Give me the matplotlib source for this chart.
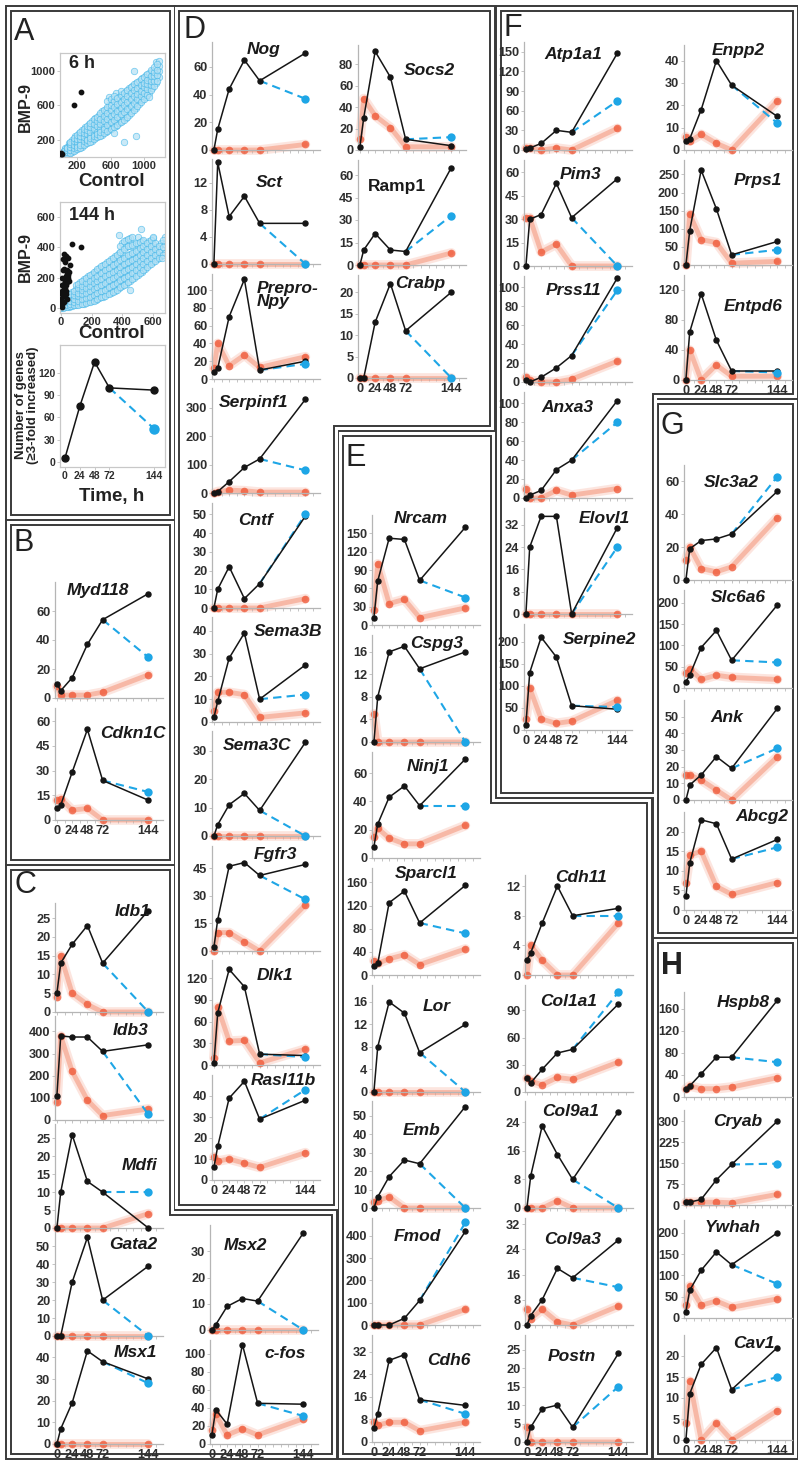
import matplotlib
matplotlib.use('Agg')
import matplotlib.pyplot as plt
from matplotlib.patches import Polygon

plt.rcParams['font.family'] = ['Liberation Sans', 'DejaVu Sans']

# ================= DATA =================
TIMES = [0, 6, 24, 48, 72, 144]
XTICKS = [0, 24, 48, 72, 144]

# ---- Panel A ----
A_count_times = [0, 24, 48, 72, 144]
A_count = [5, 75, 135, 100, 97]
A_count_blue = 45

# 6 h scatter: control values (columns) and BMP-9 values read along each column
A6_ctrl_cols = [20, 60, 100, 140, 180, 220, 260, 300, 340, 380, 420, 460, 500, 540, 580, 620,
                660, 700, 740, 780, 820, 860, 900, 940, 980, 1020, 1060, 1100, 1140, 1180]
A6_bmp_cols = [
    [5, 15, 30, 45, 25, 60],
    [20, 40, 65, 90, 55, 110],
    [40, 70, 100, 130, 85, 160],
    [60, 95, 130, 170, 110, 200],
    [80, 120, 160, 205, 140, 240],
    [100, 150, 190, 240, 170, 280, 130],
    [120, 175, 220, 270, 200, 310, 150],
    [150, 200, 250, 300, 230, 350, 180],
    [170, 230, 280, 330, 260, 380, 210, 300],
    [190, 250, 310, 360, 290, 420, 230, 330],
    [220, 280, 340, 400, 320, 450, 260, 370],
    [240, 300, 370, 430, 350, 490, 280, 400],
    [260, 330, 400, 460, 380, 530, 300, 430],
    [290, 360, 430, 500, 410, 560, 330, 470],
    [310, 390, 460, 530, 440, 600, 360, 500, 700],
    [340, 420, 490, 560, 470, 630, 390, 530],
    [360, 450, 520, 600, 500, 670, 420, 560, 740],
    [390, 480, 560, 630, 530, 700, 450, 600],
    [420, 510, 590, 660, 560, 730, 480, 640],
    [450, 540, 620, 700, 600, 770, 520, 670],
    [490, 580, 650, 730, 640, 800, 560, 700],
    [530, 610, 690, 760, 670, 830, 600, 740],
    [570, 650, 720, 790, 700, 860, 640, 770],
    [620, 690, 750, 820, 740, 890, 680, 800],
    [660, 730, 790, 850, 780, 920, 830],
    [700, 770, 830, 880, 810, 950, 870],
    [750, 820, 870, 920, 850, 980],
    [800, 870, 910, 960, 1000, 940],
    [860, 920, 980, 1040, 1100],
    [930, 1000, 1060, 1120],
]
A6_ctrl_cols2 = [40, 80, 120, 160, 200, 240, 280, 320, 360, 400, 440, 480, 520, 560, 600, 640,
                 680, 720, 760, 800, 840, 880, 920, 960, 1000, 1040, 1080, 1120, 1160]
A6_bmp_cols2 = [
    [12, 28, 50, 70],
    [30, 55, 80, 120, 100],
    [50, 85, 115, 150, 180],
    [70, 110, 145, 185, 220],
    [90, 135, 175, 215, 255, 120],
    [110, 160, 205, 250, 295, 140],
    [135, 185, 235, 285, 330],
    [160, 215, 265, 315, 365, 195],
    [180, 240, 295, 345, 400, 220],
    [205, 265, 325, 380, 440, 245],
    [230, 290, 355, 415, 470, 270],
    [250, 320, 385, 445, 510, 290],
    [275, 345, 415, 480, 545, 320],
    [300, 375, 445, 515, 580, 650],
    [325, 405, 475, 545, 610, 680],
    [350, 435, 505, 580, 650, 710],
    [375, 465, 540, 615, 690],
    [405, 495, 575, 645, 720, 770],
    [435, 525, 605, 680, 750],
    [470, 560, 635, 715, 785],
    [510, 595, 670, 745, 815],
    [550, 630, 705, 775, 845],
    [595, 670, 735, 805, 875],
    [640, 710, 770, 835, 905],
    [680, 750, 810, 865, 935],
    [725, 795, 850, 900, 965],
    [775, 840, 890, 945, 1010],
    [830, 890, 940, 990, 1050],
    [890, 950, 1010, 1080],
]
A6_out_ctrl = [760, 905, 640, 1060, 880]
A6_out_bmp = [180, 240, 280, 700, 1000]
A6_hi_ctrl = [8, 12, 15, 170, 250]
A6_hi_bmp = [30, 50, 40, 600, 760]

# 144 h scatter
A144_ctrl_cols = [0, 25, 50, 75, 100, 125, 150, 175, 200, 225, 250, 275, 300, 325, 350, 375,
                  400, 425, 450, 475, 500, 525, 550, 575, 600, 625, 650, 675]
A144_bmp_cols = [
    [0, 5, 10, 20, 30],
    [5, 15, 30, 45, 60],
    [10, 25, 45, 65, 85],
    [15, 35, 55, 80, 105],
    [20, 45, 70, 95, 125, 150],
    [25, 55, 85, 110, 140, 170],
    [30, 60, 95, 125, 155, 190],
    [40, 70, 105, 140, 170, 210],
    [45, 80, 120, 155, 190, 225],
    [55, 95, 135, 170, 205, 245],
    [65, 105, 145, 185, 220, 265],
    [75, 115, 160, 200, 240, 285],
    [90, 130, 175, 215, 255, 300],
    [100, 145, 190, 230, 270, 320],
    [115, 160, 205, 245, 290, 340],
    [130, 175, 220, 260, 305, 360],
    [145, 190, 235, 280, 325, 380, 430],
    [160, 205, 250, 295, 340, 400, 450],
    [180, 220, 265, 310, 355, 410, 460],
    [200, 240, 280, 325, 370, 420],
    [220, 260, 300, 340, 385, 430, 470],
    [240, 280, 320, 360, 400, 440],
    [260, 300, 340, 380, 420],
    [280, 320, 360, 400, 440],
    [300, 340, 380, 420, 460],
    [320, 360, 400],
    [340, 390, 430],
    [360, 420, 470],
]
A144_ctrl_cols2 = [12, 37, 62, 87, 112, 137, 162, 187, 212, 237, 262, 287, 312, 337, 362, 387,
                   412, 437, 462, 487, 512, 537, 562, 587, 612, 637, 662]
A144_bmp_cols2 = [
    [2, 12, 25, 40],
    [8, 20, 38, 55, 75],
    [12, 30, 50, 72, 95],
    [18, 40, 62, 88, 115],
    [22, 50, 78, 102, 132, 160],
    [28, 58, 90, 118, 148, 180],
    [35, 65, 100, 132, 162, 200],
    [42, 75, 112, 148, 180, 218],
    [50, 88, 128, 162, 198, 235],
    [60, 100, 140, 178, 212, 255],
    [70, 110, 152, 192, 230, 275],
    [82, 122, 168, 208, 248, 292],
    [95, 138, 182, 222, 262, 310],
    [108, 152, 198, 238, 280, 330],
    [122, 168, 212, 252, 298, 350],
    [138, 182, 228, 270, 315, 370, 410],
    [152, 198, 242, 288, 332, 390, 440],
    [170, 212, 258, 302, 348, 405, 455],
    [190, 230, 272, 318, 362, 415, 465],
    [210, 250, 290, 332, 378, 425],
    [230, 270, 310, 350, 392, 435],
    [250, 290, 330, 370, 410, 450],
    [270, 310, 350, 390, 430],
    [290, 330, 370, 410, 450],
    [310, 350, 390, 430],
    [330, 370, 410],
    [350, 400, 445],
]
A144_out_ctrl = [520, 600, 450, 380, 660]
A144_out_bmp = [520, 470, 120, 480, 330]
A144_hi_ctrl = [5, 8, 10, 12, 15, 18, 20, 22, 25, 28, 30, 32, 35, 38, 40, 42, 45, 48, 50, 20,
                25, 30, 15, 55, 60, 45, 70, 130, 10, 5, 8, 35, 40, 20, 12, 18, 3, 6, 28, 33]
A144_hi_bmp = [10, 30, 50, 80, 100, 120, 140, 160, 180, 200, 210, 150, 190, 230, 170, 250, 200,
               215, 180, 260, 300, 345, 320, 240, 280, 330, 420, 400, 200, 150, 90, 110, 60, 40,
               250, 355, 60, 110, 130, 95]

# ---- Panel B ----
B_genes = ['Myd118', 'Cdkn1C']
B_black = [[10, 5, 14, 37, 54, 72], [7, 9, 29, 55, 24, 12]]
B_orange = [[8, 2, 2, 2, 4, 16], [12, 13, 6, 7, 0, 0]]
B_blue = [28, 17]
B_yticks = [[0, 20, 40, 60], [0, 15, 30, 45, 60]]

# ---- Panel C ----
C_genes = ['Idb1', 'Idb3', 'Mdfi', 'Gata2', 'Msx1', 'Msx2', 'c-fos']
C_black = [[5, 13, 18, 23, 13, 27], [110, 380, 375, 375, 310, 340], [0, 10, 26, 13, 10, 0],
           [0, 0, 30, 55, 20, 39], [0, 7, 19, 43, 38, 30], [0, 2, 9, 12, 11, 37],
           [10, 38, 22, 110, 45, 44]]
C_orange = [[4, 15, 5, 2, 0, 0], [80, 380, 220, 90, 20, 50], [0, 0, 0, 0, 0, 4],
            [0, 0, 0, 0, 0, 0], [0, 0, 0, 0, 0, 0], [0, 0, 0, 0, 0, 0],
            [15, 33, 10, 17, 10, 28]]
C_blue = [0, 25, 10, 0, 28, 0, 31]
C_yticks = [[0, 5, 10, 15, 20, 25], [0, 100, 200, 300, 400], [0, 5, 10, 15, 20, 25],
            [0, 10, 20, 30, 40, 50], [0, 10, 20, 30, 40], [0, 10, 20, 30],
            [0, 20, 40, 60, 80, 100]]

# ---- Panel D ----
D_genes = ['Nog', 'Sct', 'Prepro-\nNpy', 'Serpinf1', 'Cntf', 'Sema3B', 'Sema3C', 'Fgfr3',
           'Dlk1', 'Rasl11b', 'Socs2', 'Ramp1', 'Crabp']
D_black = [[0, 15, 44, 65, 50, 70], [0, 15, 7, 10, 6, 6], [8, 12, 70, 112, 10, 20],
           [0, 5, 40, 90, 120, 330], [0, 10, 22, 5, 13, 49], [2, 9, 28, 39, 10, 25],
           [0, 4, 11, 15, 9, 33], [2, 17, 46, 48, 41, 47], [3, 72, 132, 108, 15, 13],
           [6, 16, 39, 47, 29, 38], [3, 30, 92, 68, 10, 4], [0, 10, 21, 10, 9, 65],
           [0, 0, 13, 22, 11, 20]]
D_orange = [[0, 0, 0, 0, 0, 4], [0, 0, 0, 0, 0, 0], [12, 40, 15, 27, 13, 25],
            [0, 5, 10, 8, 3, 3], [0, 0, 0, 0, 0, 5], [5, 13, 13, 12, 2, 4],
            [0, 0, 0, 0, 0, 0], [0, 10, 10, 5, 0, 25], [10, 80, 33, 34, 3, 22],
            [11, 9, 10, 8, 6, 13], [10, 48, 32, 21, 3, 3], [0, 0, 0, 0, 0, 8],
            [0, 0, 0, 0, 0, 0]]
D_blue = [37, 0, 17, 80, 50, 12, 0, 28, 11, 43, 12, 33, 0]
D_yticks = [[0, 20, 40, 60], [0, 4, 8, 12], [0, 20, 40, 60, 80, 100], [0, 100, 200, 300],
            [0, 10, 20, 30, 40, 50], [0, 10, 20, 30, 40], [0, 10, 20, 30], [0, 15, 30, 45],
            [0, 30, 60, 90, 120], [0, 10, 20, 30, 40], [0, 20, 40, 60, 80],
            [0, 15, 30, 45, 60], [0, 5, 10, 15, 20]]

# ---- Panel E ----
E_genes = ['Nrcam', 'Cspg3', 'Ninj1', 'Sparcl1', 'Lor', 'Emb', 'Fmod', 'Cdh6',
           'Cdh11', 'Col1a1', 'Col9a1', 'Col9a3', 'Postn']
E_black = [[12, 72, 142, 140, 73, 160], [0, 8, 16, 17, 13, 16], [8, 24, 43, 51, 37, 70],
           [15, 20, 125, 145, 90, 155], [0, 8, 16, 14, 7, 12], [0, 6, 17, 26, 24, 55],
           [0, 0, 0, 30, 110, 420], [5, 10, 29, 31, 15, 13], [2, 3, 7, 12, 8, 9],
           [15, 10, 25, 43, 47, 97], [0, 9, 23, 15, 8, 27], [0, 3, 8, 18, 15, 27],
           [0, 4, 9, 10, 4, 24]]
E_orange = [[25, 100, 35, 42, 12, 28], [5, 0, 0, 0, 0, 0], [15, 21, 14, 10, 10, 23],
            [25, 20, 28, 35, 18, 45], [0, 0, 0, 0, 0, 0], [3, 4, 6, 0, 0, 0],
            [0, 0, 0, 0, 0, 70], [7, 6, 7, 7, 4, 7], [0, 4, 2, 0, 0, 7],
            [15, 12, 8, 16, 14, 33], [0, 0, 0, 2, 0, 0], [5, 2, 5, 1, 0, 6],
            [4, 0, 0, 0, 0, 0]]
E_blue = [45, 0, 37, 72, 0, 0, 460, 10, 8, 110, 0, 12, 15]
E_yticks = [[0, 30, 60, 90, 120, 150], [0, 4, 8, 12, 16], [0, 20, 40, 60],
            [0, 40, 80, 120, 160], [0, 4, 8, 12, 16], [0, 10, 20, 30, 40, 50],
            [0, 100, 200, 300, 400], [0, 8, 16, 24, 32], [0, 4, 8, 12], [0, 30, 60, 90],
            [0, 8, 16, 24], [0, 8, 16, 24, 32], [0, 5, 10, 15, 20, 25]]

# ---- Panel F ----
F_genes = ['Atp1a1', 'Pim3', 'Prss11', 'Anxa3', 'Elovl1', 'Serpine2', 'Enpp2', 'Prps1', 'Entpd6']
F_black = [[2, 3, 10, 30, 27, 148], [0, 30, 33, 53, 31, 56], [2, 0, 5, 15, 28, 110],
           [0, 3, 8, 30, 40, 103], [0, 24, 35, 35, 0, 31], [12, 130, 210, 165, 55, 47],
           [4, 5, 18, 40, 29, 15], [0, 95, 262, 155, 28, 65], [0, 64, 115, 53, 12, 12]]
F_orange = [[3, 3, 0, 3, 0, 33], [31, 31, 9, 14, 0, 0], [5, 2, 0, 0, 3, 22],
            [10, 0, 0, 8, 3, 10], [0, 0, 0, 0, 0, 0], [25, 95, 25, 15, 20, 67],
            [6, 4, 7, 3, 0, 22], [0, 140, 70, 62, 5, 10], [0, 40, 0, 20, 5, 5]]
F_blue = [75, 0, 97, 80, 24, 52, 12, 42, 10]
F_yticks = [[0, 30, 60, 90, 120, 150], [0, 15, 30, 45, 60], [0, 20, 40, 60, 80, 100],
            [0, 20, 40, 60, 80, 100], [0, 8, 16, 24, 32], [0, 50, 100, 150, 200],
            [0, 10, 20, 30, 40], [0, 50, 100, 150, 200, 250], [0, 40, 80, 120]]

# ---- Panel G ----
G_genes = ['Slc3a2', 'Slc6a6', 'Ank', 'Abcg2']
G_black = [[0, 19, 24, 25, 28, 54], [15, 30, 95, 135, 65, 195], [0, 9, 15, 26, 19, 55],
           [3.5, 12, 23, 22, 13, 18]]
G_orange = [[12, 20, 7, 5, 8, 38], [35, 45, 20, 30, 25, 20], [15, 15, 12, 6, 0, 26],
            [7, 14, 15, 6, 4, 7]]
G_blue = [63, 60, 31, 16]
G_yticks = [[0, 20, 40, 60], [0, 50, 100, 150, 200], [0, 10, 20, 30, 40, 50], [0, 5, 10, 15, 20]]

# ---- Panel H ----
H_genes = ['Hspb8', 'Cryab', 'Ywhah', 'Cav1']
H_black = [[15, 20, 42, 72, 72, 175], [10, 10, 20, 90, 145, 300], [15, 65, 112, 155, 125, 200],
           [0, 11, 18, 22, 12, 22]]
H_orange = [[15, 20, 15, 15, 18, 35], [10, 10, 10, 10, 8, 38], [30, 75, 30, 40, 25, 45],
            [4, 14, 0, 4, 0, 7]]
H_blue = [63, 148, 80, 15]
H_yticks = [[0, 40, 80, 120, 160], [0, 75, 150, 225, 300], [0, 50, 100, 150, 200],
            [0, 5, 10, 15, 20]]

# ================= LAYOUT (pixels, y from top) =================
W, H = 798, 1460
RX = 684  # spine x of the right-most column
# gene: (spine_x, top_y, zero_y, ymax, title_fx, title_fy, show_xlabels)
LAYOUT = {
    'Myd118': (55, 582, 698, 80, 0.40, 0.93, False),
    'Cdkn1C': (55, 708, 820, 68, 0.72, 0.77, True),
    'Idb1': (55, 903, 1012, 29, 0.72, 0.92, False),
    'Idb3': (55, 1016, 1120, 470, 0.70, 0.86, False),
    'Mdfi': (55, 1124, 1228, 29, 0.78, 0.60, False),
    'Gata2': (55, 1232, 1336, 58, 0.72, 0.88, False),
    'Msx1': (55, 1340, 1444, 48, 0.74, 0.88, True),
    'Msx2': (210, 1225, 1330, 40, 0.33, 0.80, False),
    'c-fos': (210, 1340, 1444, 115, 0.70, 0.87, True),
    'Nog': (212, 42, 150, 78, 0.48, 0.93, False),
    'Sct': (212, 159, 264, 15.5, 0.53, 0.78, False),
    'Prepro-\nNpy': (212, 274, 379, 118, 0.66, 0.80, False),
    'Serpinf1': (212, 388, 493, 370, 0.38, 0.86, False),
    'Cntf': (212, 503, 608, 56, 0.40, 0.83, False),
    'Sema3B': (212, 617, 722, 46, 0.70, 0.86, False),
    'Sema3C': (212, 731, 836, 37, 0.42, 0.86, False),
    'Fgfr3': (212, 846, 951, 57, 0.59, 0.92, False),
    'Dlk1': (212, 960, 1065, 145, 0.58, 0.85, False),
    'Rasl11b': (212, 1075, 1180, 50, 0.66, 0.95, True),
    'Socs2': (358, 45, 150, 98, 0.66, 0.76, False),
    'Ramp1': (358, 160, 265, 70, 0.36, 0.75, False),
    'Crabp': (358, 275, 378, 24, 0.58, 0.92, True),
    'Nrcam': (372, 515, 625, 180, 0.45, 0.97, False),
    'Cspg3': (372, 635, 742, 19, 0.60, 0.92, False),
    'Ninj1': (372, 752, 858, 75, 0.52, 0.86, False),
    'Sparcl1': (372, 868, 975, 185, 0.50, 0.95, False),
    'Lor': (372, 985, 1092, 19, 0.60, 0.80, False),
    'Emb': (372, 1101, 1208, 58, 0.46, 0.72, False),
    'Fmod': (372, 1218, 1325, 480, 0.42, 0.83, False),
    'Cdh6': (372, 1335, 1442, 38, 0.71, 0.76, True),
    'Cdh11': (525, 875, 975, 13.5, 0.52, 0.97, False),
    'Col1a1': (525, 985, 1092, 118, 0.40, 0.85, False),
    'Col9a1': (525, 1101, 1208, 30, 0.42, 0.90, False),
    'Col9a3': (525, 1218, 1325, 34, 0.44, 0.80, False),
    'Postn': (525, 1335, 1442, 29, 0.43, 0.80, True),
    'Atp1a1': (524, 42, 150, 165, 0.46, 0.88, False),
    'Pim3': (524, 160, 266, 68, 0.52, 0.86, False),
    'Prss11': (524, 276, 382, 112, 0.46, 0.86, False),
    'Anxa3': (524, 392, 498, 112, 0.40, 0.85, False),
    'Elovl1': (524, 508, 614, 38, 0.74, 0.90, False),
    'Serpine2': (524, 624, 730, 240, 0.70, 0.85, True),
    'Enpp2': (RX, 45, 150, 47, 0.50, 0.95, False),
    'Prps1': (RX, 160, 265, 290, 0.68, 0.80, False),
    'Entpd6': (RX, 275, 380, 140, 0.64, 0.70, True),
    'Slc3a2': (RX, 465, 580, 70, 0.44, 0.85, False),
    'Slc6a6': (RX, 590, 688, 230, 0.50, 0.92, False),
    'Ank': (RX, 700, 800, 60, 0.40, 0.82, False),
    'Abcg2': (RX, 812, 910, 25, 0.72, 0.95, True),
    'Hspb8': (RX, 992, 1097, 190, 0.55, 0.90, False),
    'Cryab': (RX, 1110, 1205, 340, 0.50, 0.88, False),
    'Ywhah': (RX, 1220, 1318, 230, 0.45, 0.92, False),
    'Cav1': (RX, 1335, 1440, 25, 0.65, 0.92, True),
}
AX_W = 108
XLIM = (-3, 167)

BOXES = [
    [(8, 8), (172, 8), (172, 517), (8, 517)],
    [(8, 522), (172, 522), (172, 862), (8, 862)],
    [(8, 867), (172, 867), (172, 1212), (334, 1212), (334, 1456), (8, 1456)],
    [(176, 8), (492, 8), (492, 428), (336, 428), (336, 1207), (176, 1207)],
    [(340, 433), (493, 433), (493, 800), (649, 800), (649, 1456), (340, 1456)],
    [(498, 8), (795, 8), (795, 396), (655, 396), (655, 795), (498, 795)],
    [(655, 401), (795, 401), (795, 935), (655, 935)],
    [(655, 940), (795, 940), (795, 1456), (655, 1456)],
]
LETTERS = [('A', 14, 32, 'normal'), ('B', 14, 543, 'normal'), ('C', 14, 885, 'normal'),
           ('D', 183, 30, 'normal'), ('E', 346, 458, 'normal'), ('F', 503, 28, 'normal'),
           ('G', 661, 426, 'normal'), ('H', 661, 966, 'bold')]

BLACK = '#151515'
ORANGE_LINE = '#f59a80'
ORANGE_DOT = '#ef5534'
BLUE = '#1ea6e6'
SPINE = '#b5b5b5'
TXT = '#2e2e2e'

fig = plt.figure(figsize=(W / 100, H / 100), dpi=100)


def fxy(x, y):
    return x / W, 1 - y / H


def add_ax(left, top, width, bottom):
    return fig.add_axes([left / W, 1 - bottom / H, width / W, (bottom - top) / H])


def fmt(v):
    return str(int(v)) if float(v).is_integer() else str(v)


def gene_plot(name, black, orange, blue, yticks):
    sx, top, zero, ymax, tfx, tfy, showx = LAYOUT[name]
    ax = add_ax(sx, top, AX_W, zero)
    ax.patch.set_alpha(0)
    ax.set_xlim(*XLIM)
    ax.set_ylim(0, ymax)
    ax.plot(TIMES, orange, color=ORANGE_LINE, lw=7, alpha=0.25, solid_capstyle='round',
            solid_joinstyle='round', zorder=1.5, clip_on=False)
    ax.plot(TIMES, orange, color=ORANGE_LINE, lw=3.5, alpha=0.6, solid_capstyle='round',
            solid_joinstyle='round', zorder=2, clip_on=False)
    ax.plot(TIMES, orange, ls='none', marker='o', ms=5.5, mfc=ORANGE_DOT, mec='none',
            alpha=0.75, zorder=2.5, clip_on=False)
    ax.plot([TIMES[4], TIMES[5]], [black[4], blue], color=BLUE, lw=1.5, ls=(0, (4, 2.5)),
            zorder=3, clip_on=False)
    ax.plot([TIMES[5]], [blue], marker='o', ms=6, color=BLUE, mec='none', zorder=5, clip_on=False)
    ax.plot(TIMES, black, color=BLACK, lw=1.1, marker='o', ms=3.6, zorder=4, clip_on=False)
    for s in ['top', 'right']:
        ax.spines[s].set_visible(False)
    for s in ['left', 'bottom']:
        ax.spines[s].set_color(SPINE)
        ax.spines[s].set_linewidth(0.9)
    ax.set_yticks(yticks)
    ax.set_yticklabels([fmt(t) for t in yticks], fontsize=9.2, fontweight='bold', color=TXT)
    ax.set_xticks(XTICKS)
    ax.set_xticks(list(range(12, 168, 12)), minor=True)
    if showx:
        ax.set_xticklabels([str(t) for t in XTICKS], fontsize=9.2, fontweight='bold', color=TXT)
    else:
        ax.set_xticklabels([])
    ax.tick_params(axis='both', which='both', length=2.2, width=0.7, color='#c4c4c4', pad=1.2)
    italic = 'normal' if name == 'Ramp1' else 'italic'
    if '\n' in name:
        ax.text(tfx - 0.25, tfy, name, transform=ax.transAxes, ha='left', va='center',
                fontsize=12.5, fontweight='bold', fontstyle=italic, color='#1a1a1a',
                linespacing=0.9)
    else:
        ax.text(tfx, tfy, name, transform=ax.transAxes, ha='center', va='center',
                fontsize=12.5, fontweight='bold', fontstyle=italic, color='#1a1a1a')
    return ax


# ---- panel boxes (drawn beneath the axes) ----
for pts in BOXES:
    poly = [fxy(x, y) for x, y in pts]
    fig.add_artist(Polygon(poly, closed=True, fill=False, ec='#3a3a3a', lw=5.0,
                           transform=fig.transFigure, joinstyle='miter', zorder=-2))
for pts in BOXES:
    poly = [fxy(x, y) for x, y in pts]
    fig.add_artist(Polygon(poly, closed=True, fill=False, ec='white', lw=2.2,
                           transform=fig.transFigure, joinstyle='miter', zorder=-1))

for letter, x, y, wt in LETTERS:
    fx_, fy_ = fxy(x, y)
    fig.text(fx_, fy_, letter, fontsize=22, fontweight=wt, color='#222222', ha='left', va='center')


# ---- Panel A scatter plots ----
def frame_style(ax, fs=8):
    for s in ax.spines.values():
        s.set_color('#c8c8c8')
        s.set_linewidth(0.9)
    ax.tick_params(axis='both', length=2, width=0.6, color='#c0c0c0', pad=1.2,
                   labelsize=fs, labelcolor=TXT)
    for lab in ax.get_xticklabels() + ax.get_yticklabels():
        lab.set_fontweight('bold')


def flatten_cols(xcols, ycols):
    xs, ys = [], []
    for xv, col in zip(xcols, ycols):
        for yv in col:
            xs.append(xv)
            ys.append(yv)
    return xs, ys


SC_KW = dict(s=22, facecolors='#b4e1f5', edgecolors='#3ab3e8', linewidths=0.5, alpha=0.7,
             zorder=2)

ax6 = add_ax(60, 53, 105, 157)
x6a, y6a = flatten_cols(A6_ctrl_cols, A6_bmp_cols)
x6b, y6b = flatten_cols(A6_ctrl_cols2, A6_bmp_cols2)
ax6.scatter(x6a + x6b + A6_out_ctrl, y6a + y6b + A6_out_bmp, **SC_KW)
ax6.scatter(A6_hi_ctrl, A6_hi_bmp, s=10, color='#111111', zorder=3)
ax6.set_xlim(-3, 1250)
ax6.set_ylim(0, 1210)
ax6.set_xticks([200, 600, 1000])
ax6.set_yticks([200, 600, 1000])
frame_style(ax6)
ax6.text(0.09, 0.86, '6 h', transform=ax6.transAxes, fontsize=13, fontweight='bold', color='#222')

ax144 = add_ax(60, 202, 105, 313)
x14a, y14a = flatten_cols(A144_ctrl_cols, A144_bmp_cols)
x14b, y14b = flatten_cols(A144_ctrl_cols2, A144_bmp_cols2)
ax144.scatter(x14a + x14b + A144_out_ctrl, y14a + y14b + A144_out_bmp, **SC_KW)
ax144.scatter(A144_hi_ctrl, A144_hi_bmp, s=10, color='#111111', zorder=3)
ax144.set_xlim(-6, 677)
ax144.set_ylim(-32, 697)
ax144.set_xticks([0, 200, 400, 600])
ax144.set_yticks([0, 200, 400, 600])
frame_style(ax144)
ax144.text(0.09, 0.84, '144 h', transform=ax144.transAxes, fontsize=13, fontweight='bold',
           color='#222')

for yc in (107, 257):
    fig.text(*fxy(25, yc), 'BMP-9', rotation=90, fontsize=11.5, fontweight='bold', color='#222',
             ha='center', va='center')
for yc in (182, 333):
    fig.text(*fxy(112, yc), 'Control', fontsize=13.5, fontweight='bold', color='#222',
             ha='center', va='center')

axc = add_ax(60, 345, 105, 467)
axc.plot(A_count_times[3:], [A_count[3], A_count_blue], color=BLUE, lw=1.5, ls=(0, (4, 2.5)),
         zorder=2)
axc.plot([A_count_times[4]], [A_count_blue], marker='o', ms=6.5, color=BLUE, zorder=4)
axc.plot(A_count_times, A_count, color=BLACK, lw=1.1, marker='o', ms=5, zorder=3)
axc.set_xlim(-8, 162)
axc.set_ylim(-7, 158)
axc.set_xticks(A_count_times)
axc.set_yticks([0, 30, 60, 90, 120])
frame_style(axc, fs=7.5)
fig.text(*fxy(27, 405), 'Number of genes\n(\u22653-fold increased)', rotation=90, fontsize=9.5,
         fontweight='bold', color='#222', ha='center', va='center', linespacing=1.1)
fig.text(*fxy(112, 497), 'Time, h', fontsize=13.5, fontweight='bold', color='#222',
         ha='center', va='center')

# ---- gene panels ----
for genes, blacks, oranges, blues, ticks in [
        (B_genes, B_black, B_orange, B_blue, B_yticks),
        (C_genes, C_black, C_orange, C_blue, C_yticks),
        (D_genes, D_black, D_orange, D_blue, D_yticks),
        (E_genes, E_black, E_orange, E_blue, E_yticks),
        (F_genes, F_black, F_orange, F_blue, F_yticks),
        (G_genes, G_black, G_orange, G_blue, G_yticks),
        (H_genes, H_black, H_orange, H_blue, H_yticks)]:
    for g, b, o, bl, t in zip(genes, blacks, oranges, blues, ticks):
        gene_plot(g, b, o, bl, t)

fig.savefig('out.png', dpi=100, facecolor='white')
